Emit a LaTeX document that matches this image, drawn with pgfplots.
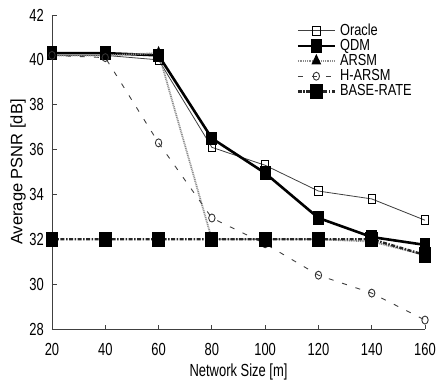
\documentclass[border=0pt]{standalone}
\usepackage{fontspec}
\setmainfont{Liberation Sans}[FakeStretch=0.74]
\newfontfamily\ylabfont{Liberation Sans}
\newfontfamily\legfont{Liberation Sans}[FakeStretch=0.8]
\usepackage{pgfplots}
\pgfplotsset{compat=1.18}
\begin{document}
\begin{tikzpicture}
\begin{axis}[
  scale only axis, width=373pt, height=314pt,
  xmin=20, xmax=160, ymin=28, ymax=42,
  xtick={20,40,...,160}, ytick={28,30,...,42},
  axis x line=bottom, axis y line=left,
  axis line style={-, line width=0.8pt, black!75},
  tick align=inside, major tick length=4.5pt,
  tick style={black!75, line width=0.8pt},
  clip=false,
  /pgf/number format/assume math mode=true,
  tick label style={font=\fontsize{17.5}{19}\selectfont},
  xticklabel style={anchor=center, inner sep=0pt, yshift=-20pt},
  yticklabel style={anchor=east, inner sep=0pt, xshift=-8pt},
  xlabel={Network Size [m]}, ylabel={Average PSNR [dB]},
  xlabel style={font=\fontsize{17.5}{19}\selectfont, at={(axis description cs:0.5,-0.137)}, anchor=center, inner sep=0pt},
  ylabel style={font=\ylabfont\fontsize{16.5}{18}\selectfont, at={(axis description cs:-0.091,0.5)}, anchor=center, inner sep=0pt},
  legend cell align=left,
  legend style={draw=none, fill=none, at={(0.647,0.978)}, anchor=north west,
    font=\legfont\fontsize{16}{16}\selectfont, row sep=2.2pt,
    nodes={inner ysep=0pt, inner xsep=4pt, text height=11pt, text depth=2pt}},
  legend image code/.code={\draw[mark repeat=2,mark phase=2] plot coordinates {(0cm,0cm) (0.65cm,0cm) (1.3cm,0cm)};},
]
\addplot[black!75, line width=0.8pt, mark=square, mark size=4.5pt, mark options={solid, fill=white, line width=0.8pt, black, xscale=0.8}]
 coordinates {(20,40.2)(40,40.2)(60,40.0)(80,36.1)(100,35.3)(120,34.15)(140,33.8)(160,32.85)};
\addlegendentry{Oracle}
\addplot[black, line width=2.6pt, mark=square*, mark size=5.5pt, mark options={solid, xscale=0.75}]
 coordinates {(20,40.3)(40,40.3)(60,40.2)(80,36.5)(100,34.95)(120,32.95)(140,32.1)(160,31.75)};
\addlegendentry{QDM}
\addplot[black!45, line width=1.8pt, dash pattern=on 1pt off 0.8pt, mark=triangle*, mark size=5pt, mark options={solid, black, fill=black, xscale=0.8}]
 coordinates {(20,40.2)(40,40.2)(60,40.3)(80,32.0)(100,32.0)(120,32.0)(140,31.9)(160,31.3)};
\addlegendentry{ARSM}
\addplot[black!75, line width=0.9pt, dash pattern=on 5pt off 9pt, mark=o, mark size=4pt, mark options={solid, black!80, line width=0.9pt, xscale=0.8}]
 coordinates {(20,40.2)(40,40.1)(60,36.3)(80,32.95)(100,31.8)(120,30.4)(140,29.6)(160,28.4)};
\addlegendentry{H-ARSM}
\addplot[black!85, line width=2.4pt, dash pattern=on 4pt off 1.5pt on 1.5pt off 1.5pt, mark=square*, mark size=6.5pt, mark options={solid, black, xscale=0.8}]
 coordinates {(20,32)(40,32)(60,32)(80,32)(100,32)(120,32)(140,32)(160,31.3)};
\addlegendentry{BASE-RATE}
\coordinate (ll) at (rel axis cs:0,0);
\coordinate (ur) at (rel axis cs:1,1);
\end{axis}
\pgfresetboundingbox
\path ([shift={(-52pt,-59pt)}]ll) rectangle ([shift={(13pt,15pt)}]ur);
\end{tikzpicture}
\end{document}
